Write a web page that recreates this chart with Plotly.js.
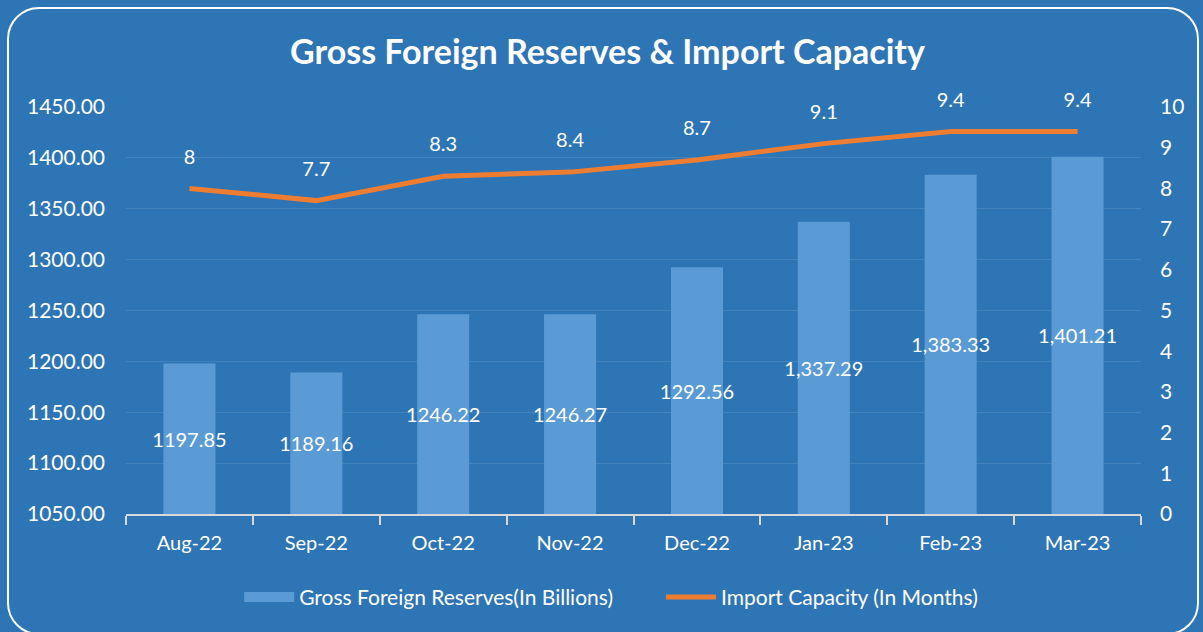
<!DOCTYPE html>
<html>
<head>
<meta charset="utf-8">
<script src="https://cdn.plot.ly/plotly-3.0.1.min.js"></script>
<style>
html,body{margin:0;padding:0;background:#2E75B6;width:1203px;height:632px;overflow:hidden;}
#chart{position:absolute;left:0;top:0;width:1203px;height:632px;}
#frame{position:absolute;left:7px;top:7px;width:1192px;height:628px;border:2px solid #ffffff;border-radius:32px;pointer-events:none;box-sizing:border-box;}
</style>
</head>
<body>
<div id="chart"></div>
<div id="frame"></div>
<script>
const months = ["Aug-22","Sep-22","Oct-22","Nov-22","Dec-22","Jan-23","Feb-23","Mar-23"];
const reserves = [1197.85,1189.16,1246.22,1246.27,1292.56,1337.29,1383.33,1401.21];
const reserveLabels = ["1197.85","1189.16","1246.22","1246.27","1292.56","1,337.29","1,383.33","1,401.21"];
const importMonths = [8,7.7,8.3,8.4,8.7,9.1,9.4,9.4];
const importLabels = ["8","7.7","8.3","8.4","8.7","9.1","9.4","9.4"];
const reserveAxisMin = 1050;

const FONT = "Lato, 'Open Sans', sans-serif";
const BAR_COLOR = "#5B9BD5";
const bars = {
  type: "bar",
  x: months,
  y: reserves.map(v => v - reserveAxisMin),
  base: reserveAxisMin,
  name: "Gross Foreign Reserves(In Billions)",
  showlegend: false,
  marker: {color: BAR_COLOR, line: {width: 0}},
  width: 0.41,
  text: reserveLabels,
  textposition: "inside",
  insidetextanchor: "middle",
  textangle: 0,
  constraintext: "none",
  textfont: {color: "#ffffff", size: 20, family: FONT},
  insidetextfont: {color: "#ffffff", size: 20, family: FONT},
  hoverinfo: "skip",
  cliponaxis: false
};
const barLegend = {
  type: "scatter", mode: "lines",
  x: [null], y: [null],
  name: "Gross Foreign Reserves(In Billions)\u00a0\u00a0\u00a0\u00a0\u00a0\u00a0\u00a0\u00a0",
  line: {color: BAR_COLOR, width: 16},
  hoverinfo: "skip"
};
const line = {
  type: "scatter",
  mode: "lines+markers+text",
  x: months,
  y: importMonths,
  yaxis: "y2",
  name: "Import Capacity (In Months)",
  line: {color: "#ED7D31", width: 5},
  marker: {size: 30, color: "rgba(0,0,0,0)"},
  text: importLabels,
  textposition: "top center",
  textfont: {color: "#ffffff", size: 20, family: FONT},
  cliponaxis: false,
  hoverinfo: "skip"
};
const layout = {
  width: 1203, height: 632,
  paper_bgcolor: "#2E75B6",
  plot_bgcolor: "#2E75B6",
  margin: {l: 126, r: 62, t: 107, b: 118, autoexpand: false},
  font: {family: FONT, color: "#ffffff", size: 20},
  title: {text: "<b>Gross Foreign Reserves & Import Capacity</b>", x: 0.505, xanchor: "center", y: 0.918, yanchor: "middle",
          font: {family: FONT, size: 34, color: "#ffffff"}},
  showlegend: true,
  legend: {orientation: "h", x: 0.478, xanchor: "center", y: -0.205, yanchor: "middle",
           font: {family: FONT, size: 21, color: "#ffffff"}, traceorder: "normal", itemwidth: 50,
           bgcolor: "rgba(0,0,0,0)"},
  xaxis: {
    type: "category",
    showgrid: false,
    showline: true, linecolor: "#D9D9D9", linewidth: 2,
    ticks: "outside", tickson: "boundaries", ticklen: 9, tickcolor: "#D9D9D9", tickwidth: 2,
    ticklabelstandoff: 10,
    tickfont: {family: FONT, size: 20, color: "#ffffff"},
    range: [-0.5, 7.5],
    fixedrange: true
  },
  yaxis: {
    range: [1050, 1450],
    tickvals: [1050,1100,1150,1200,1250,1300,1350,1400,1450],
    ticktext: ["1050.00","1100.00","1150.00","1200.00","1250.00","1300.00","1350.00","1400.00","1450.00"],
    showgrid: true, gridcolor: "rgba(255,255,255,0.10)", gridwidth: 1,
    zeroline: false, showline: false, ticks: "",
    ticklabelstandoff: 20,
    tickfont: {family: FONT, size: 21, color: "#ffffff"},
    fixedrange: true
  },
  yaxis2: {
    overlaying: "y", side: "right",
    range: [0, 10], dtick: 1,
    showgrid: false, zeroline: false, showline: false, ticks: "",
    ticklabelstandoff: 18,
    tickfont: {family: FONT, size: 21, color: "#ffffff"},
    fixedrange: true
  }
};
Plotly.newPlot("chart", [bars, barLegend, line], layout, {displayModeBar: false, staticPlot: true});
</script>
</body>
</html>
